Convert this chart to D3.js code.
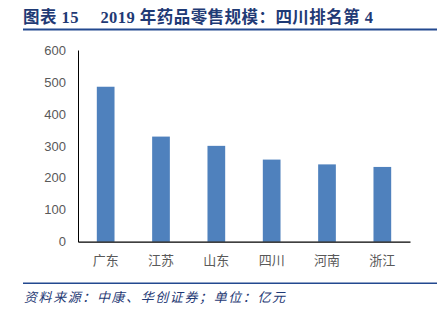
<!DOCTYPE html>
<html><head><meta charset="utf-8">
<script src="https://cdn.jsdelivr.net/npm/d3@7"></script>
<style>body{margin:0;background:#fff}</style>
</head><body>
<svg id="c" width="445" height="323"></svg>
<script>
const categories = ["广东","江苏","山东","四川","河南","浙江"];
const values = [485, 329, 300, 257, 242, 234];
const yTicks = [0,100,200,300,400,500,600];
const titleText = "图表 15\u2003 2019 年药品零售规模：四川排名第 4";
const sourceText = "资料来源：中康、华创证券；单位：亿元";

const svg = d3.select("#c");
const m = {left:78, right:410, top:50, bottom:241.7};

svg.append("text").attr("x",23).attr("y",22.5)
  .attr("font-family","'Liberation Serif','Noto Sans CJK SC',serif")
  .attr("font-weight","bold").attr("font-size",16.5).attr("fill","#1f3a75")
  .attr("textLength",350).attr("lengthAdjust","spacing")
  .text(titleText);
svg.append("line").attr("x1",23).attr("x2",437).attr("y1",29.5).attr("y2",29.5)
  .attr("stroke","#23498f").attr("stroke-width",2);

const x = d3.scaleBand().domain(categories).range([m.left,m.right])
  .paddingInner(0.68).paddingOuter(0.34);
const y = d3.scaleLinear().domain([0,600]).range([m.bottom,m.top]);

svg.selectAll("rect.bar").data(values).join("rect").attr("class","bar")
  .attr("x",(d,i)=>x(categories[i])).attr("width",x.bandwidth())
  .attr("y",d=>y(d)).attr("height",d=>y(0)-y(d))
  .attr("fill","#4f81bd");

const ya = svg.append("g").attr("transform",`translate(${m.left},0)`)
  .call(d3.axisLeft(y).tickValues(yTicks).tickSize(0).tickPadding(12));
ya.select(".domain").attr("stroke","#000").attr("stroke-width",1);
ya.selectAll("text").attr("font-family","Arial,'Liberation Sans',sans-serif")
  .attr("font-size",13).attr("fill","#595959");

const xa = svg.append("g").attr("transform",`translate(0,${m.bottom})`)
  .call(d3.axisBottom(x).tickSize(0).tickPadding(14));
xa.select(".domain").attr("stroke","#000").attr("stroke-width",1.2);
xa.selectAll("text").attr("font-family","'Noto Sans CJK SC',sans-serif")
  .attr("font-size",13).attr("fill","#595959");

svg.append("line").attr("x1",23).attr("x2",437).attr("y1",283.3).attr("y2",283.3)
  .attr("stroke","#23498f").attr("stroke-width",1.5);
svg.append("text").attr("x",24).attr("y",302)
  .attr("font-family","'Noto Sans CJK SC',sans-serif").attr("font-style","italic")
  .attr("font-size",13).attr("fill","#1f3a75")
  .attr("textLength",261).attr("lengthAdjust","spacing")
  .text(sourceText);
</script>
</body></html>
